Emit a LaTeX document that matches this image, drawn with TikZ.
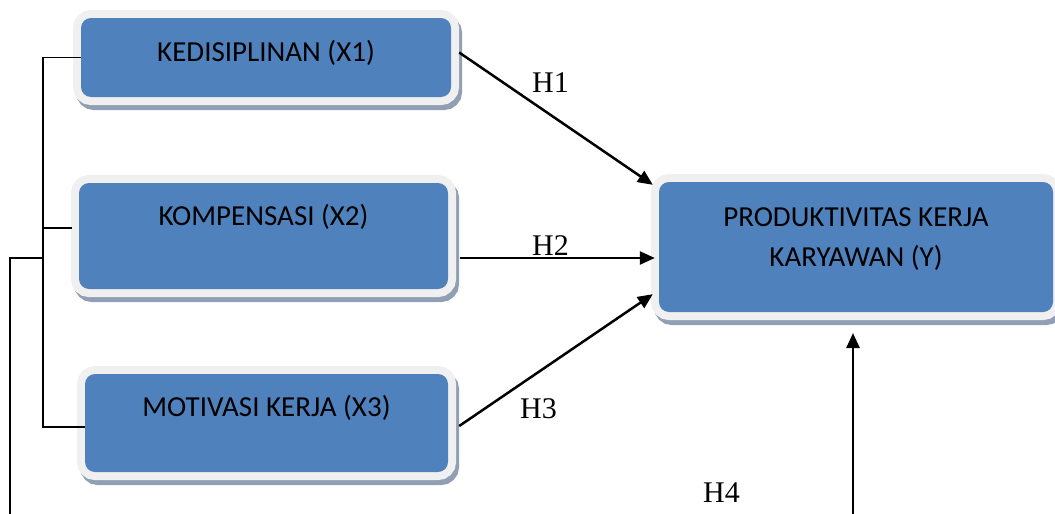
\documentclass[tikz,border=0pt]{standalone}
\usepackage{fontspec}
\setmainfont{Liberation Serif}
\newfontfamily\carlito{Carlito}
\usetikzlibrary{arrows.meta}
\definecolor{boxblue}{HTML}{4F81BD}
\definecolor{framec}{HTML}{F0F0F0}
\definecolor{shadowc}{HTML}{919FB4}
\tikzset{
  vbox/.style={rectangle, rounded corners=10pt, inner sep=0pt, fill=boxblue,
    preaction={draw=shadowc, fill=shadowc, line width=16pt, transform canvas={xshift=3pt, yshift=-5pt}},
    preaction={draw=framec, line width=16pt}},
  boxtext/.style={font=\carlito\fontsize{29}{40}\selectfont, inner sep=0pt, anchor=base},
  hlabel/.style={font=\fontsize{30}{36}\selectfont, inner sep=0pt, anchor=base west},
  arr/.style={line width=2.5pt, -{Triangle[length=15pt,width=13pt]}},
  tree/.style={line width=1.5pt}
}
\begin{document}
\begin{tikzpicture}[x=1pt,y=-1pt]
\useasboundingbox (0,0) rectangle (1055,514);
% boxes
\node[vbox, minimum width=370pt, minimum height=79pt] (X1) at (266,57.5) {};
\node[vbox, minimum width=369pt, minimum height=106pt] (X2) at (263.5,236) {};
\node[vbox, minimum width=363pt, minimum height=98pt] (X3) at (266.5,423) {};
\node[vbox, minimum width=394pt, minimum height=130pt] (Y) at (856,247) {};
% texts
\node[boxtext] (X1t) at (266,61) {KEDISIPLINAN (X1)};
\node[boxtext] (X2t) at (263.5,225) {KOMPENSASI (X2)};
\node[boxtext] (X3t) at (266.5,416) {MOTIVASI KERJA (X3)};
\node[boxtext, align=center] (Yt) at (856,266.5) {PRODUKTIVITAS KERJA\\KARYAWAN (Y)};
% left tree
\coordinate (t1) at (43,57.5);
\coordinate (t2) at (43,228);
\coordinate (t3) at (43,427);
\coordinate (o1) at (43,258);
\coordinate (o2) at (10,258);
\coordinate (o3) at (10,540);
\coordinate (o4) at (853,540);
\coordinate (yin) at (853,333);
\draw[tree] (X1.west) -- (t1) -- (t3) -- (t3 -| X3.west);
\draw[tree] (t2) -- ([xshift=-7pt]t2 -| X2.west);
\draw[tree] (o1) -- (o2) -- (o3) -- (o4);
\draw[arr] (o4) -- (yin);
% hypothesis arrows
\draw[arr] ([shift={(8,-5)}]X1.east) -- ([shift={(-6,3)}]Y.north west);
\draw[arr] ([shift={(12,22)}]X2.east) -- ([shift={(-4,11)}]Y.west);
\draw[arr] ([shift={(11,3)}]X3.east) -- ([shift={(-6,-18)}]Y.south west);
% labels
\node[hlabel] (H1) at (532,92) {H1};
\node[hlabel] (H2) at (532,255) {H2};
\node[hlabel] (H3) at (520,418) {H3};
\node[hlabel] (H4) at (703,502) {H4};
\end{tikzpicture}
\end{document}
